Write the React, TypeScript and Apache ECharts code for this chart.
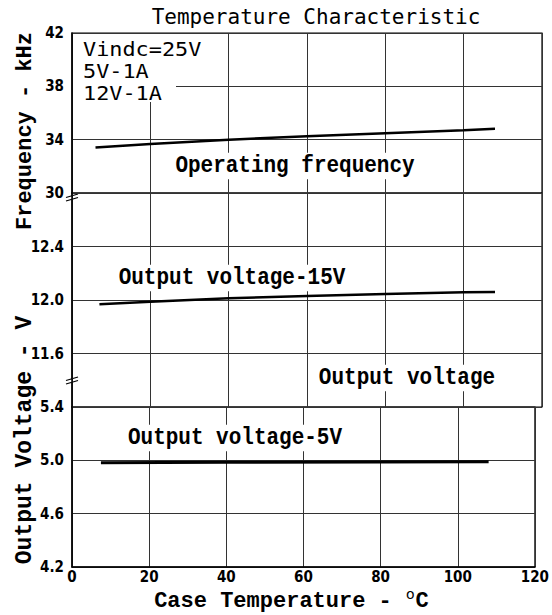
import React, { useEffect, useRef } from "react";
import * as echarts from "echarts";

const titleText = "Temperature Characteristic";

const freqTemps = [6, 20, 40, 60, 80, 100, 108];
const freqValues = [33.42, 33.68, 34.0, 34.25, 34.48, 34.7, 34.82];

const v15Temps = [7, 20, 40, 60, 80, 100, 108];
const v15Values = [11.968, 11.987, 12.013, 12.03, 12.045, 12.058, 12.06];

const v5Temps = [7.5, 40, 80, 108];
const v5Values = [4.982, 4.985, 4.988, 4.99];

const conditionLines = ["Vindc=25V", "5V-1A", "12V-1A"];

const tickFont = {
  fontFamily: "DejaVu Sans Condensed, DejaVu Sans",
  fontWeight: "bold" as const,
  fontSize: 15,
  color: "#000",
};
const monoSerif = "Liberation Mono, Courier New, monospace";

function pairs(xs: number[], ys: number[]) {
  return xs.map((x, i) => [x, ys[i]]);
}

export default function App() {
  const ref = useRef<HTMLDivElement>(null);
  useEffect(() => {
    if (!ref.current) return;
    const chart = echarts.init(ref.current, undefined, { renderer: "svg" });
    const grids = [
      { left: 72, top: 33, width: 470, height: 160 },
      { left: 72, top: 193, width: 470, height: 214 },
      { left: 72, top: 407, width: 470, height: 160 },
    ].map((g) => ({
      ...g,
      show: true,
      borderColor: "#000",
      borderWidth: 1.2,
      backgroundColor: "transparent",
    }));
    const splitLine = { show: true, lineStyle: { color: "#333", width: 1 } };
    const xAxis = [0, 1, 2].map((i) => ({
      type: "value",
      gridIndex: i,
      min: 0,
      max: 120,
      interval: 20,
      axisLine: { show: i === 2, lineStyle: { color: "#000", width: 1.5 } },
      axisTick: { show: false },
      axisLabel: { show: i === 2, margin: 2, ...tickFont },
      splitLine,
      ...(i === 2
        ? {
            name: "{a|Case Temperature - }{s|o}{a|C}",
            nameLocation: "middle",
            nameGap: 20,
            nameTextStyle: {
              padding: [0, 24, 0, 0],
              rich: {
                a: { fontFamily: monoSerif, fontSize: 22, fontWeight: "bold", color: "#000", lineHeight: 24 },
                s: { fontFamily: "DejaVu Sans", fontSize: 14, color: "#000", padding: [0, 1, 14, 1] },
              },
            },
          }
        : {}),
    }));
    const yBase = {
      type: "value",
      axisLine: { show: true, lineStyle: { color: "#000", width: 1.5 } },
      axisTick: { show: false },
      splitLine,
    };
    const yAxis = [
      {
        ...yBase,
        gridIndex: 0,
        min: 30,
        max: 42,
        interval: 4,
        axisLabel: { margin: 8, ...tickFont, formatter: (v: number) => String(Math.round(v)) },
      },
      {
        ...yBase,
        gridIndex: 1,
        min: 11.2,
        max: 12.8,
        interval: 0.4,
        axisLabel: {
          margin: 8,
          ...tickFont,
          formatter: (v: number) =>
            Math.abs(v - 11.2) < 1e-6 || Math.abs(v - 12.8) < 1e-6 ? "" : v.toFixed(1),
        },
      },
      {
        ...yBase,
        gridIndex: 2,
        min: 4.2,
        max: 5.4,
        interval: 0.4,
        axisLabel: { margin: 8, ...tickFont, formatter: (v: number) => v.toFixed(1) },
      },
    ];
    const lineSeries = (name: string, idx: number, data: number[][], w: number) => ({
      type: "line",
      name,
      xAxisIndex: idx,
      yAxisIndex: idx,
      data,
      showSymbol: false,
      symbol: "none",
      lineStyle: { color: "#000", width: w },
      z: 5,
    });
    const annot = (text: string, x: number, y: number) => ({
      type: "text",
      x,
      y,
      z: 20,
      scaleY: 1.15,
      style: {
        text,
        fontFamily: monoSerif,
        fontWeight: "bold",
        fontSize: 21,
        fill: "#000",
        align: "center",
        verticalAlign: "middle",
        backgroundColor: "#fff",
        padding: [1, 3],
      },
    });
    const breakMark = (y: number) => ({
      type: "group",
      z: 30,
      children: [
        { type: "rect", shape: { x: 70, y: y - 1.5, width: 4, height: 3 }, style: { fill: "#fff" } },
        { type: "line", shape: { x1: 66, y1: y - 0.5, x2: 78, y2: y - 4 }, style: { stroke: "#000", lineWidth: 1.3 } },
        { type: "line", shape: { x1: 66, y1: y + 3, x2: 78, y2: y - 0.5 }, style: { stroke: "#000", lineWidth: 1.3 } },
      ],
    });
    const vLabel = (text: string, y: number, size: number) => ({
      type: "text",
      z: 20,
      x: 25,
      y,
      rotation: Math.PI / 2,
      style: {
        text,
        fontFamily: monoSerif,
        fontWeight: "bold",
        fontSize: size,
        fill: "#000",
        align: "center",
        verticalAlign: "middle",
      },
    });
    chart.setOption({
      animation: false,
      backgroundColor: "#fff",
      title: {
        text: titleText,
        left: 311,
        top: 1,
        textAlign: "center",
        textStyle: { fontFamily: "DejaVu Sans Mono", fontWeight: "normal", fontSize: 21, color: "#000" },
      },
      grid: grids,
      xAxis,
      yAxis,
      series: [
        lineSeries("Operating frequency", 0, pairs(freqTemps, freqValues), 2.5),
        lineSeries("Output voltage-15V", 1, pairs(v15Temps, v15Values), 2.5),
        lineSeries("Output voltage-5V", 2, pairs(v5Temps, v5Values), 3),
      ],
      graphic: [
        { type: "rect", z: 15, shape: { x: 73, y: 34, width: 103, height: 68 }, style: { fill: "#fff" } },
        ...conditionLines.map((t, i) => ({
          type: "text",
          z: 20,
          x: 83,
          y: 50 + i * 22,
          scaleX: 1.15,
          style: {
            text: t,
            fontFamily: "DejaVu Sans Mono",
            fontSize: 19,
            fill: "#000",
            align: "left",
            verticalAlign: "middle",
          },
        })),
        annot("Operating frequency", 295, 166),
        annot("Output voltage-15V", 232, 278),
        annot("Output voltage", 407, 378),
        annot("Output voltage-5V", 235, 438),
        vLabel("Frequency - kHz", 131, 22),
        vLabel("Output Voltage - V", 440, 23),
        breakMark(198),
        breakMark(381),
      ],
    });
    return () => chart.dispose();
  }, []);
  return (
    <div
      ref={ref}
      style={{ position: "fixed", left: 0, top: 0, width: 552, height: 615, background: "#fff" }}
    />
  );
}
